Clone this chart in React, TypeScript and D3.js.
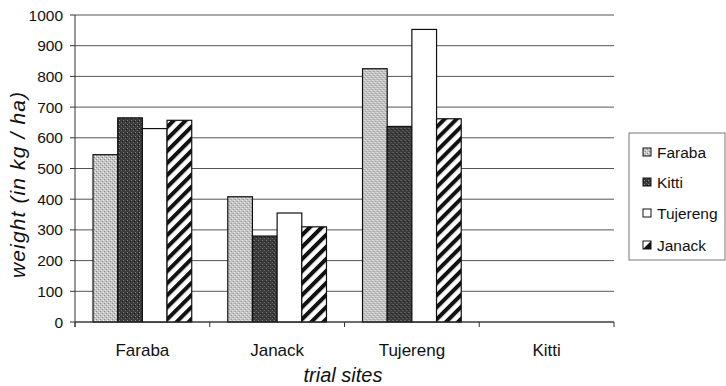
import React from "react";
import * as d3 from "d3";

const categories = ["Faraba", "Janack", "Tujereng", "Kitti"];
const seriesNames = ["Faraba", "Kitti", "Tujereng", "Janack"];
const farabaValues = [545, 408, 825, 0];
const kittiValues = [665, 280, 637, 0];
const tujerengValues = [630, 355, 953, 0];
const janackValues = [657, 310, 662, 0];
const yTicks = [0, 100, 200, 300, 400, 500, 600, 700, 800, 900, 1000];

const seriesValues = [farabaValues, kittiValues, tujerengValues, janackValues];
const fills = ["url(#pFaraba)", "url(#pKitti)", "#ffffff", "url(#pJanack)"];

const W = 726;
const H = 386;
const plot = { left: 75, right: 614, top: 15, bottom: 322 };
const FONT = "'Liberation Sans', Arial, Helvetica, sans-serif";

export default function App() {
  const x0 = d3.scaleBand<string>().domain(categories).range([plot.left, plot.right]).padding(0);
  const x1 = d3
    .scaleBand<string>()
    .domain(seriesNames)
    .range([0, x0.bandwidth()])
    .paddingInner(0)
    .paddingOuter(0.73);
  const y = d3.scaleLinear().domain([0, 1000]).range([plot.bottom, plot.top]);

  const boundaries = categories.map((c) => x0(c) as number).concat([plot.right]);

  const legendX = 629;
  const legendY = 133;
  const legendItemY = [152, 182, 213, 245];

  return (
    <svg
      width={W}
      height={H}
      style={{ position: "absolute", left: 0, top: 0, background: "#fff" }}
      fontFamily={FONT}
    >
      <defs>
        <pattern id="pFaraba" patternUnits="userSpaceOnUse" width={4} height={4}>
          <rect width={4} height={4} fill="#c4c4c4" />
          <rect x={0} y={0} width={1} height={1} fill="#f2f2f2" />
          <rect x={2} y={2} width={1} height={1} fill="#f2f2f2" />
          <rect x={1} y={3} width={1} height={1} fill="#8a8a8a" />
          <rect x={3} y={1} width={1} height={1} fill="#8a8a8a" />
        </pattern>
        <pattern id="pKitti" patternUnits="userSpaceOnUse" width={4} height={4}>
          <rect width={4} height={4} fill="#3a3a3a" />
          <rect x={0} y={0} width={1} height={1} fill="#8c8c8c" />
          <rect x={2} y={2} width={1} height={1} fill="#7a7a7a" />
          <rect x={3} y={1} width={1} height={1} fill="#111" />
        </pattern>
        <pattern
          id="pJanack"
          patternUnits="userSpaceOnUse"
          width={8.5}
          height={8.5}
          patternTransform="rotate(45)"
        >
          <rect width={8.5} height={8.5} fill="#fff" />
          <rect x={0} y={0} width={4} height={8.5} fill="#111" />
        </pattern>
      </defs>

      {/* gridlines */}
      {yTicks.map((t) => (
        <line
          key={"g" + t}
          x1={plot.left}
          x2={plot.right}
          y1={y(t)}
          y2={y(t)}
          stroke="#555"
          strokeWidth={1}
        />
      ))}

      {/* bars */}
      {categories.map((c, ci) => (
        <g key={c} transform={`translate(${x0(c)},0)`}>
          {seriesNames.map((s, si) => {
            const v = seriesValues[si][ci];
            if (!v) return null;
            return (
              <rect
                key={s}
                x={x1(s)}
                y={y(v)}
                width={x1.bandwidth()}
                height={y(0) - y(v)}
                fill={fills[si]}
                stroke="#111"
                strokeWidth={1.2}
              />
            );
          })}
        </g>
      ))}

      {/* y axis */}
      <line x1={plot.left} x2={plot.left} y1={plot.top} y2={plot.bottom + 5} stroke="#333" strokeWidth={1} />
      {yTicks.map((t) => (
        <g key={"t" + t}>
          <line x1={plot.left - 5} x2={plot.left} y1={y(t)} y2={y(t)} stroke="#333" />
          <text
            x={63}
            y={y(t)}
            dy="0.36em"
            textAnchor="end"
            fontSize={15.5}
            fill="#111"
          >
            {t}
          </text>
        </g>
      ))}

      {/* x axis */}
      <line x1={plot.left} x2={plot.right} y1={plot.bottom} y2={plot.bottom} stroke="#333" strokeWidth={1} />
      {boundaries.map((bx, i) => (
        <line key={"xb" + i} x1={bx} x2={bx} y1={plot.bottom} y2={plot.bottom + 5} stroke="#333" />
      ))}
      {categories.map((c) => (
        <text
          key={"xl" + c}
          x={(x0(c) as number) + x0.bandwidth() / 2}
          y={356}
          textAnchor="middle"
          fontSize={17}
          fill="#111"
        >
          {c}
        </text>
      ))}

      {/* axis titles */}
      <text
        x={343}
        y={382}
        textAnchor="middle"
        fontSize={20}
        fontStyle="italic"
        fill="#111"
      >
        trial sites
      </text>
      <text
        transform={`translate(25,185) rotate(-90)`}
        textAnchor="middle"
        fontSize={21}
        fontStyle="italic"
        fill="#111"
        textLength={186}
        lengthAdjust="spacing"
      >
        weight (in kg / ha)
      </text>

      {/* legend */}
      <rect
        x={legendX}
        y={legendY}
        width={W - legendX - 1}
        height={127}
        fill="#fff"
        stroke="#777"
        strokeWidth={1}
      />
      {seriesNames.map((s, i) => (
        <g key={"lg" + s}>
          {i === 3 ? (
            <g>
              <rect x={643} y={legendItemY[i] - 4} width={8} height={8} fill="#fff" stroke="#111" strokeWidth={1} />
              <path
                d={`M${643},${legendItemY[i] + 4} L${651},${legendItemY[i] - 4} L${651},${legendItemY[i] + 4} Z`}
                fill="#111"
              />
            </g>
          ) : (
            <rect
              x={643}
              y={legendItemY[i] - 4}
              width={8}
              height={8}
              fill={fills[i]}
              stroke="#111"
              strokeWidth={1}
            />
          )}
          <text x={657} y={legendItemY[i]} dy="0.36em" fontSize={15.5} fill="#111">
            {s}
          </text>
        </g>
      ))}
    </svg>
  );
}
